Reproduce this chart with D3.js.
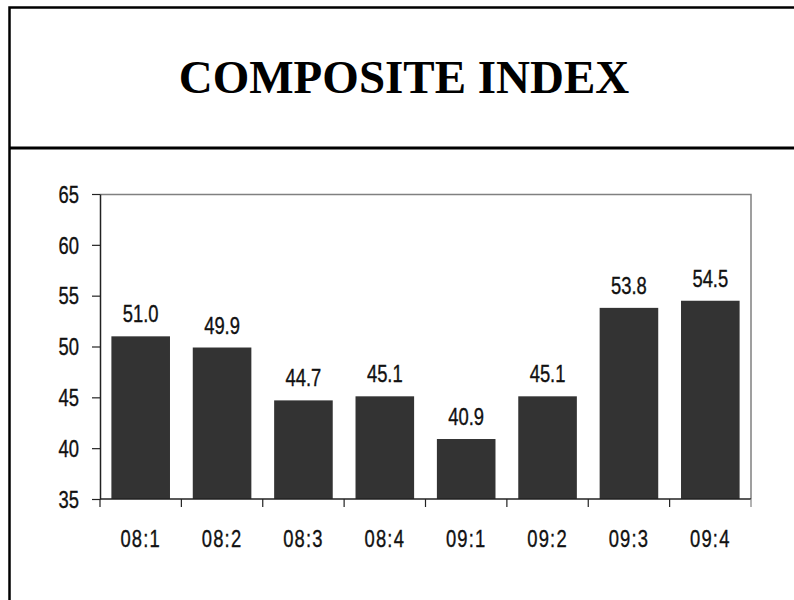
<!DOCTYPE html>
<html>
<head>
<meta charset="utf-8">
<script src="https://cdn.jsdelivr.net/npm/d3@7"></script>
<style>
  body { margin: 0; background: #fff; }
  svg { display: block; }
</style>
</head>
<body>
<div id="chart"></div>
<script>
// chart data
const categories = ['08:1', '08:2', '08:3', '08:4', '09:1', '09:2', '09:3', '09:4'];
const values = [51.0, 49.9, 44.7, 45.1, 40.9, 45.1, 53.8, 54.5];
const yTicks = [35, 40, 45, 50, 55, 60, 65];
const title = 'COMPOSITE INDEX';

const W = 794, H = 600;
const margin = {top: 194, right: 43, bottom: 101, left: 100},
      width = W - margin.left - margin.right,
      height = H - margin.top - margin.bottom;

// labels use a squeezed sans to mimic the narrow face of the original
const labelFont = '"Liberation Sans", Arial, sans-serif';
const squeeze = 0.8;

const svg = d3.select('#chart')
  .append('svg')
  .attr('width', W)
  .attr('height', H);

// outer frame (left + top) and title separator
svg.append('path')
  .attr('d', 'M9.5,' + H + 'V7.5H' + W)
  .attr('fill', 'none')
  .attr('stroke', '#000')
  .attr('stroke-width', 2.5);

svg.append('line')
  .attr('x1', 9.5).attr('x2', W)
  .attr('y1', 148).attr('y2', 148)
  .attr('stroke', '#000')
  .attr('stroke-width', 3);

svg.append('text')
  .attr('x', 404)
  .attr('y', 93)
  .attr('text-anchor', 'middle')
  .style('font-family', '"Liberation Serif", "Times New Roman", serif')
  .style('font-weight', 'bold')
  .style('font-size', '47px')
  .text(title);

const g = svg.append('g')
  .attr('transform', 'translate(' + margin.left + ',' + margin.top + ')');

const x = d3.scaleBand()
  .domain(categories)
  .range([0, width])
  .paddingInner(0.28)
  .paddingOuter(0.14);

const y = d3.scaleLinear()
  .domain([35, 65])
  .range([height, 0]);

function labelStyle(sel) {
  sel.style('font-family', labelFont)
    .style('font-size', '23px')
    .attr('fill', '#111')
    .attr('stroke', '#111')
    .attr('stroke-width', 0.35);
}

// plot area top/right edges
g.append('path')
  .attr('d', 'M0,0.5H' + width + 'V' + height)
  .attr('fill', 'none')
  .attr('stroke', '#808080')
  .attr('stroke-width', 1.5);

// bars
g.selectAll('.bar')
  .data(values)
  .enter()
  .append('rect')
  .attr('class', 'bar')
  .attr('x', (d, i) => x(categories[i]))
  .attr('y', (d) => y(d))
  .attr('width', x.bandwidth())
  .attr('height', (d) => height - y(d))
  .attr('fill', '#333333');

// value labels
g.selectAll('.val')
  .data(values)
  .enter()
  .append('text')
  .attr('class', 'val')
  .attr('transform', (d, i) => 'translate(' + (x(categories[i]) + x.bandwidth() / 2) + ',' + (y(d) - 14) + ') scale(' + squeeze + ',1)')
  .attr('text-anchor', 'middle')
  .call(labelStyle)
  .text((d) => d.toFixed(1));

// y axis
const yAxis = g.append('g')
  .attr('class', 'axis axis--y')
  .call(d3.axisLeft(y).tickValues(yTicks).tickSize(8).tickSizeOuter(0));

yAxis.select('.domain').attr('stroke', '#222').attr('stroke-width', 1.5);
yAxis.selectAll('.tick line').attr('stroke', '#222').attr('stroke-width', 1.2);
yAxis.selectAll('.tick text')
  .attr('x', 0)
  .attr('dy', '0.36em')
  .attr('transform', 'translate(-21,0) scale(' + squeeze + ',1)')
  .call(labelStyle);

// x axis: ticks at category boundaries
const step = x.step();
const bounds = d3.range(categories.length + 1).map((i) => i * step);

const xAxis = g.append('g')
  .attr('class', 'axis axis--x')
  .attr('transform', 'translate(0,' + height + ')');

xAxis.append('line')
  .attr('x1', 0).attr('x2', width)
  .attr('stroke', '#222').attr('stroke-width', 1.5);

xAxis.selectAll('.bt')
  .data(bounds)
  .enter()
  .append('line')
  .attr('class', 'bt')
  .attr('x1', (d) => d).attr('x2', (d) => d)
  .attr('y1', 0).attr('y2', 8)
  .attr('stroke', (d, i) => i === categories.length ? '#808080' : '#222')
  .attr('stroke-width', 1.2);

xAxis.selectAll('.xl')
  .data(categories)
  .enter()
  .append('text')
  .attr('class', 'xl')
  .attr('transform', (d) => 'translate(' + (x(d) + x.bandwidth() / 2) + ',48) scale(' + squeeze + ',1)')
  .attr('text-anchor', 'middle')
  .call(labelStyle)
  .style('letter-spacing', '1.5px')
  .text((d) => d);
</script>
</body>
</html>
